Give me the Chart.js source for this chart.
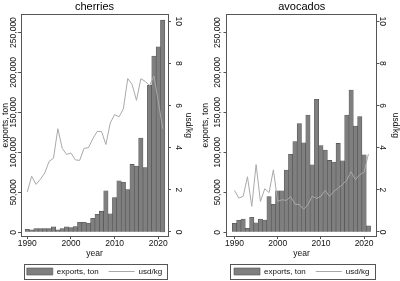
<!DOCTYPE html>
<html>
<head>
<meta charset="utf-8">
<script src="https://cdn.jsdelivr.net/npm/chart.js@4.4.1/dist/chart.umd.min.js"></script>
<style>
  html, body { margin: 0; padding: 0; background: #fff; }
  #wrap { position: relative; width: 400px; height: 281px; }
  canvas { position: absolute; top: 0; }
</style>
</head>
<body>
<div id="wrap">
  <canvas id="c1" width="200" height="281" style="left:0px"></canvas>
  <canvas id="c2" width="200" height="281" style="left:200px"></canvas>
</div>
<script>
// ---- data ----
const years = [1990,1991,1992,1993,1994,1995,1996,1997,1998,1999,2000,2001,2002,2003,2004,2005,
               2006,2007,2008,2009,2010,2011,2012,2013,2014,2015,2016,2017,2018,2019,2020,2021];

const cherriesExports = [3800,3200,4600,4600,4800,4800,6800,3000,4600,6800,5800,7200,12500,12500,11600,17500,
                         22500,26500,52000,23000,43500,64500,63000,53500,85000,83000,118000,81000,184000,220500,232000,265500];
const cherriesPrice   = [1.9,2.65,2.26,2.5,2.8,3.35,3.5,4.9,3.97,3.68,3.75,3.42,3.4,3.97,4.0,4.42,
                         4.77,4.77,4.15,5.17,5.57,5.46,5.84,7.28,7.0,6.25,7.27,7.15,6.95,7.4,6.2,4.9];

const avocadosExports = [11300,15000,16600,5000,18800,12000,16600,15400,44600,35000,52000,52000,78000,97600,113400,136000,
                         112000,146700,84500,166500,108500,103000,90000,88000,111200,89600,146700,178000,133000,144700,97000,8000];
const avocadosPrice   = [1.97,1.61,1.69,2.62,1.22,3.2,1.45,2.05,1.87,2.95,1.45,1.53,1.5,1.68,1.32,1.3,
                         1.08,1.3,1.7,1.59,1.7,1.97,1.69,1.93,2.08,2.25,2.47,2.86,2.48,2.72,2.84,3.7];

const leftTicks  = [0, 50000, 100000, 150000, 200000, 250000];
const rightTicks = [0, 2, 4, 6, 8, 10];
const xTicks     = [1990, 2000, 2010, 2020];

const seriesLabels = ['exports, ton', 'usd/kg'];
const panelTitles  = ['cherries', 'avocados'];
const axisTitles   = { x: 'year', left: 'exports, ton', right: 'usd/kg' };

// ---- styling ----
const FAMILY = "'Liberation Sans', Arial, Helvetica, sans-serif";
Chart.defaults.font.family = FAMILY;
Chart.defaults.color = '#111';
const TICK_SIZE = 8.5;
const AXIS_COLOR = '#555';
const BAR_FILL = '#7f7f7f';
const BAR_EDGE = '#505050';
const LINE_COLOR = '#a9a9a9';

function textWidth(s, size) {
  const ctx = document.createElement('canvas').getContext('2d');
  ctx.font = size + 'px ' + FAMILY;
  return ctx.measureText(s).width;
}
const fmtLeft = v => Number(v).toLocaleString('en-US');
const fmtRight = v => String(v);
const WL = Math.max(...leftTicks.map(v => textWidth(fmtLeft(v), TICK_SIZE)));
const WR = Math.max(...rightTicks.map(v => textWidth(fmtRight(v), TICK_SIZE)));

const legendBox = {
  id: 'legendBox',
  afterDraw(chart) {
    const l = chart.legend, a = chart.chartArea, ctx = chart.ctx;
    const cy = l.top + 14;
    ctx.save();
    ctx.strokeStyle = AXIS_COLOR;
    ctx.lineWidth = 1;
    const x0 = Math.round(a.left + 3) + 0.5;
    const x1 = Math.round(a.right - 1.5) + 0.5;
    const y0 = Math.round(cy - 7.5) + 0.5;
    ctx.strokeRect(x0, y0, x1 - x0, 15);
    ctx.restore();
  }
};

function makePanel(id, title, exportsArr, priceArr, g) {
  const barData = years.map((y, i) => ({ x: y, y: exportsArr[i] }));
  const lineData = years.map((y, i) => ({ x: y, y: priceArr[i] }));
  return new Chart(document.getElementById(id), {
    type: 'bar',
    data: {
      datasets: [
        { type: 'bar', label: seriesLabels[0], data: barData, yAxisID: 'y', order: 2,
          backgroundColor: BAR_FILL, borderColor: BAR_EDGE, borderWidth: 0.6,
          barPercentage: 1, categoryPercentage: 1 },
        { type: 'line', label: seriesLabels[1], data: lineData, yAxisID: 'y1', order: 1,
          borderColor: LINE_COLOR, backgroundColor: LINE_COLOR, borderWidth: 1,
          pointRadius: 0, tension: 0, fill: false }
      ]
    },
    options: {
      responsive: false,
      animation: false,
      devicePixelRatio: 1,
      layout: { padding: { left: g.padL, right: g.padR, top: 0, bottom: -4.5 } },
      plugins: {
        tooltip: { enabled: false },
        title: { display: true, text: title, color: '#000',
                 font: { size: 11, weight: 'normal' }, padding: { top: 0, bottom: 1.5 } },
        legend: {
          position: 'bottom',
          labels: {
            usePointStyle: true, pointStyleWidth: 26, boxHeight: 7, padding: 10,
            font: { size: 8 }, color: '#111',
            sort: (a, b) => a.datasetIndex - b.datasetIndex,
            generateLabels(chart) {
              const items = Chart.defaults.plugins.legend.labels.generateLabels(chart);
              items.forEach(it => {
                if (it.datasetIndex === 0) {
                  it.pointStyle = 'rect'; it.fillStyle = BAR_FILL; it.strokeStyle = BAR_EDGE; it.lineWidth = 0.6;
                } else {
                  it.pointStyle = 'line'; it.strokeStyle = LINE_COLOR; it.lineWidth = 1;
                }
              });
              return items;
            }
          }
        }
      },
      scales: {
        x: {
          type: 'linear', position: 'bottom', min: g.xmin, max: g.xmax, offset: false,
          afterBuildTicks: s => { s.ticks = xTicks.map(v => ({ value: v })); },
          afterFit: s => { s.height = 21.5; },
          ticks: { autoSkip: false, maxRotation: 0, padding: 0, font: { size: TICK_SIZE }, color: '#111',
                   callback: v => String(v) },
          grid: { display: true, drawOnChartArea: false, drawTicks: true, tickLength: 3, color: AXIS_COLOR, offset: false },
          border: { display: true, color: AXIS_COLOR, width: 1 },
          title: { display: true, text: axisTitles.x, font: { size: TICK_SIZE }, color: '#111',
                   padding: { top: 0, bottom: -1.1 } }
        },
        xTop: {
          type: 'linear', position: 'top', min: g.xmin, max: g.xmax, display: true,
          ticks: { display: false },
          grid: { display: false, drawTicks: false },
          border: { display: true, color: AXIS_COLOR, width: 1 }
        },
        y: {
          type: 'linear', position: 'left', min: -4600, max: 272300,
          afterBuildTicks: s => { s.ticks = leftTicks.map(v => ({ value: v })); },
          afterFit: s => { s.width = g.leftW; },
          ticks: { autoSkip: false, minRotation: 90, maxRotation: 90, align: 'end', crossAlign: 'center',
                   padding: g.leftGap - WL / 2, font: { size: TICK_SIZE }, color: '#111', callback: fmtLeft },
          grid: { display: true, drawOnChartArea: false, drawTicks: true, tickLength: 3, color: AXIS_COLOR },
          border: { display: true, color: AXIS_COLOR, width: 1 },
          title: { display: true, text: axisTitles.left, font: { size: TICK_SIZE }, color: '#111',
                   padding: { top: g.leftTitlePad, bottom: 0 } }
        },
        y1: {
          type: 'linear', position: 'right', min: -0.19, max: 10.31,
          afterBuildTicks: s => { s.ticks = rightTicks.map(v => ({ value: v })); },
          afterFit: s => { s.width = g.rightW; },
          ticks: { autoSkip: false, minRotation: -90, maxRotation: -90, align: 'end', crossAlign: 'center',
                   padding: g.rightGap - WR / 2, font: { size: TICK_SIZE }, color: '#111', callback: fmtRight },
          grid: { display: true, drawOnChartArea: false, drawTicks: true, tickLength: 3, color: AXIS_COLOR },
          border: { display: true, color: AXIS_COLOR, width: 1 },
          title: { display: true, text: axisTitles.right, font: { size: TICK_SIZE }, color: '#111',
                   padding: { top: g.rightTitlePad, bottom: 0 } }
        }
      }
    },
    plugins: [legendBox]
  });
}

makePanel('c1', panelTitles[0], cherriesExports, cherriesPrice,
  { padL: 0, padR: 11, leftW: 21, rightW: 21, xmin: 1988.56, xmax: 2022.22,
    leftGap: -0.3, rightGap: 3, leftTitlePad: 0.2, rightTitlePad: -4.9 });
makePanel('c2', panelTitles[1], avocadosExports, avocadosPrice,
  { padL: 3.4, padR: 0, leftW: 23.1, rightW: 23.5, xmin: 1988.15, xmax: 2022.87,
    leftGap: 1.7, rightGap: -1.3, leftTitlePad: -3.2, rightTitlePad: -0.6 });
</script>
</body>
</html>
